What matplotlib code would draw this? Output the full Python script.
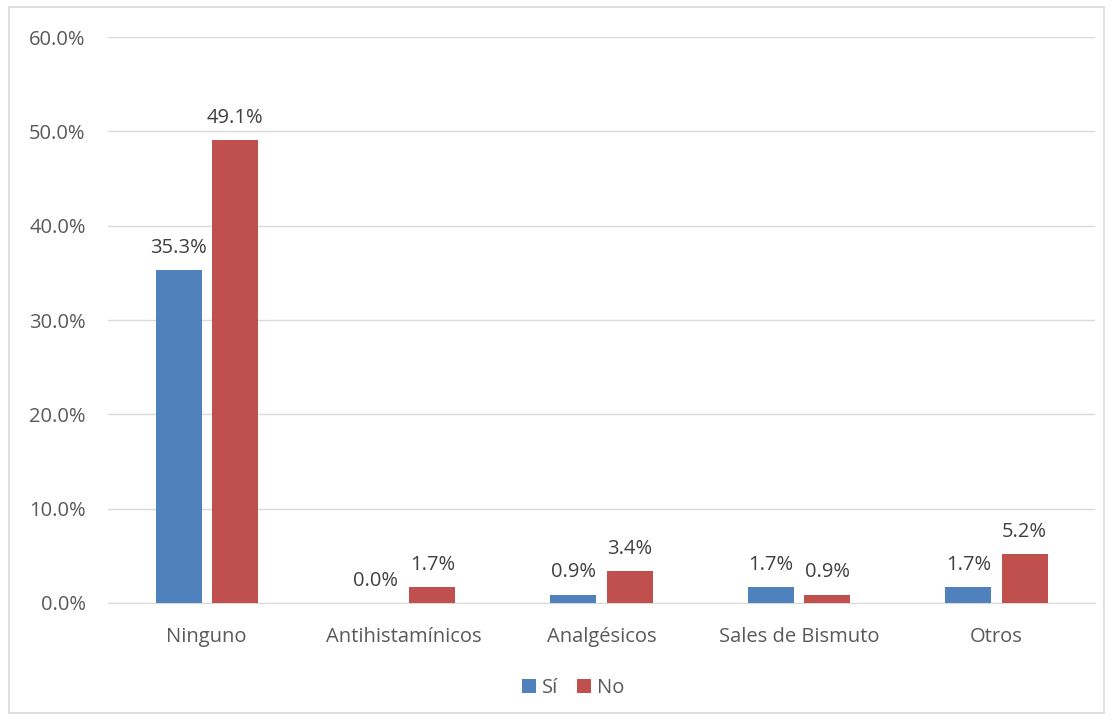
import matplotlib.pyplot as plt
import numpy as np
from matplotlib.patches import Rectangle

plt.rcParams['font.family'] = ['Open Sans', 'DejaVu Sans']

categories = ["Ninguno", "Antihistamínicos", "Analgésicos", "Sales de Bismuto", "Otros"]
si_values = [35.3, 0.0, 0.9, 1.7, 1.7]
no_values = [49.1, 1.7, 3.4, 0.9, 5.2]
series_names = ["Sí", "No"]
y_ticks = [0, 10, 20, 30, 40, 50, 60]

BLUE = "#4F81BD"
RED = "#C0504D"
TEXT = "#595959"
FS = 14.5

fig = plt.figure(figsize=(11.13, 7.2), dpi=100)
ax = fig.add_axes([0.097, 0.1625, 0.887, 0.786])

x = np.arange(len(categories))
w = 0.233
off = w / 2 + 0.026
b1 = ax.bar(x - off, si_values, w, color=BLUE, label=series_names[0], zorder=3)
b2 = ax.bar(x + off, no_values, w, color=RED, label=series_names[1], zorder=3)

for bars, vals in ((b1, si_values), (b2, no_values)):
    for rect, v in zip(bars, vals):
        ax.text(rect.get_x() + rect.get_width() / 2, v + 1.3, f"{v:.1f}%",
                ha="center", va="bottom", fontsize=FS, color="#404040")

ax.set_xlim(-0.5, len(categories) - 0.5)
ax.set_ylim(0, 60)
ax.set_yticks(y_ticks)
ax.set_yticklabels([f"{t:.1f}%" for t in y_ticks])
ax.set_xticks(x)
ax.set_xticklabels(categories)
ax.tick_params(axis="both", length=0, labelsize=FS, colors=TEXT)
ax.tick_params(axis="y", pad=16)
ax.tick_params(axis="x", pad=17)
ax.grid(axis="y", color="#D9D9D9", linewidth=1, zorder=0)
for side in ("top", "right", "left"):
    ax.spines[side].set_visible(False)
ax.spines["bottom"].set_color("#D9D9D9")

fig.legend(handles=[b1, b2], labels=series_names, loc="center",
           bbox_to_anchor=(0.515, 0.045), ncol=2, frameon=False,
           fontsize=FS, handlelength=0.7, handleheight=0.7,
           handletextpad=0.3, columnspacing=0.9, labelcolor=TEXT)

fig.patches.append(Rectangle((0.008, 0.01), 0.984, 0.98, transform=fig.transFigure,
                             fill=False, edgecolor="#D9D9D9", linewidth=1.2))

fig.savefig("out.png", dpi=100)
